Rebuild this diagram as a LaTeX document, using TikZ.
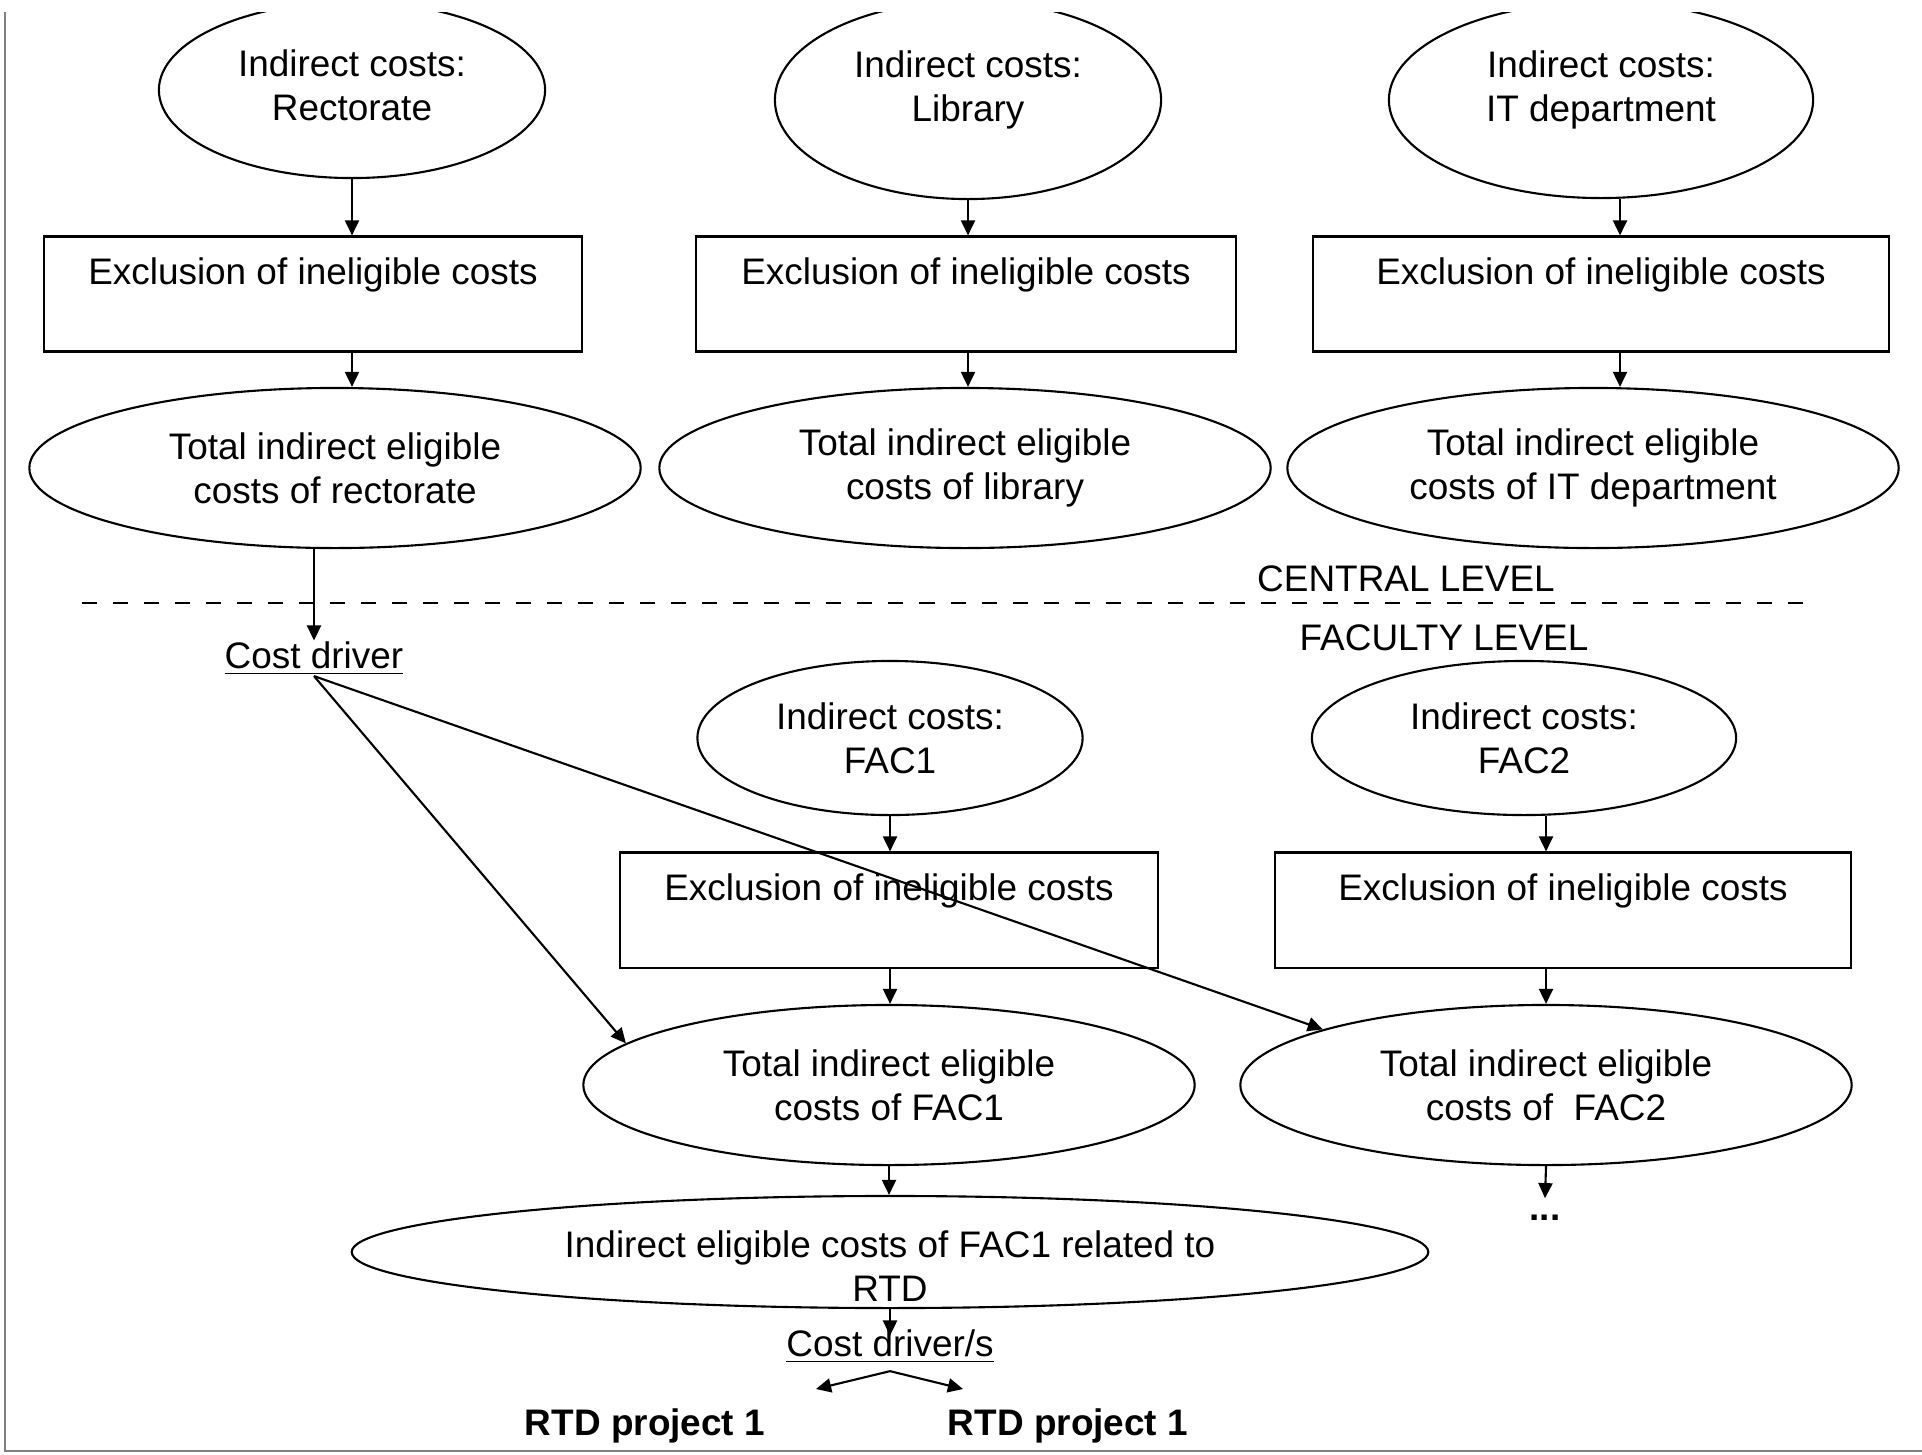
\documentclass[tikz,border=0pt]{standalone}
\usepackage{fontspec}
\setmainfont{Liberation Sans}
\usetikzlibrary{shapes.geometric,arrows.meta}

\begin{document}
\begin{tikzpicture}
[x=0.01cm,y=-0.01cm,
  lineDecorate/.style={-{Triangle[length=4.3pt,width=4pt]},line width=0.6pt},%
  ellipseDecorate/.style={shape=ellipse,draw,line width=0.6pt,inner sep=0pt,align=center},%
  boxDecorate/.style={shape=rectangle,draw,line width=0.6pt,inner sep=0pt,align=center,minimum height=1.15cm,text depth=0.46cm},%
  textDecorate/.style={inner sep=0pt,anchor=base},%
  frameDecorate/.style={draw=gray,line width=0.5pt}]
\fontsize{10.5}{12.6}\selectfont
\useasboundingbox (0,0) rectangle (1922,1454);
\clip (0,12) rectangle (1922,1454);
%% central level
\foreach \nodename/\x/\y/\w/\h/\d/\txt in {e1/352/90/3.86/1.76/0.1/{Indirect costs:\\Rectorate},
  e2/968/100/3.86/1.98/0.28/{Indirect costs:\\Library}, e3/1601/100/4.24/1.96/0.28/{Indirect costs:\\IT department}}
{
  \node (\nodename) at (\x,\y) [ellipseDecorate,minimum width=\w cm,minimum height=\h cm,text depth=\d cm] {\txt};
}
\foreach \nodename/\x/\y/\w in {b1/313/294/5.37, b2/966/294/5.39, b3/1601/294/5.76, b4/889/910/5.37, b5/1563/910/5.76}
{
  \node (\nodename) at (\x,\y) [boxDecorate,minimum width=\w cm] {Exclusion of ineligible costs};
}
\foreach \nodename/\x/\y/\txt in {t1/335/468/{Total indirect eligible\\costs of rectorate},
  t2/965/468/{Total indirect eligible\\costs of library}, t3/1593/468/{Total indirect eligible\\costs of IT department},
  t4/889/1085/{Total indirect eligible\\costs of FAC1}, t5/1546/1085/{Total indirect eligible\\costs of~ FAC2}}
{
  \node (\nodename) at (\x,\y) [ellipseDecorate,minimum width=6.11cm,minimum height=1.6cm] {\txt};
}
%% faculty level
\foreach \nodename/\x/\w/\txt in {f1/890/3.85/{Indirect costs:\\FAC1}, f2/1524/4.24/{Indirect costs:\\FAC2}}
{
  \node (\nodename) at (\x,738) [ellipseDecorate,minimum width=\w cm,minimum height=1.54cm] {\txt};
}
\node (rtd) at (890,1252) [ellipseDecorate,minimum width=10.76cm,minimum height=1.12cm,text height=0.995cm,text depth=-0.1cm,inner ysep=-0.12cm] {Indirect eligible costs of FAC1 related to\\RTD};
%% plain labels
\node (cd) at (314,668) [textDecorate] {\underline{Cost driver}};
\node (cds) at (890,1356) [textDecorate] {\underline{Cost driver/s}};
\node (central) at (1406,591) [textDecorate] {CENTRAL LEVEL};
\node (faculty) at (1444,650) [textDecorate] {FACULTY LEVEL};
\node (rtd1) at (645,1435) [textDecorate,font=\bfseries] {RTD project 1};
\node (rtd2) at (1068,1435) [textDecorate,font=\bfseries] {RTD project 1};
\node (dots) at (1545,1220) [textDecorate,text height=6pt,font=\bfseries] {...};
\coordinate (axis3) at (1620,0);
\coordinate (sepL) at (82,603);
\coordinate (sepR) at (1818,603);
\coordinate (leftTip) at (816,1389);
\coordinate (rightTip) at (963,1389);
\coordinate (frameTop) at (5,12);
\coordinate (frameCorner) at (5,1451);
\coordinate (frameEnd) at (1922,1451);
%% edges or lines
\foreach \en/\bn/\tn in {e1/b1/t1, e2/b2/t2}
{
  \draw[lineDecorate] (\en.south) -- (\en.south |- \bn.north);
  \draw[lineDecorate] (\en |- \bn.south) -- (\en |- \tn.north);
}
\draw[lineDecorate] (axis3 |- e3.south) -- (axis3 |- b3.north);
\draw[lineDecorate] (axis3 |- b3.south) -- (axis3 |- t3.north);
\draw[lineDecorate] (cd |- t1.south) -- (cd.north);
\draw[lineDecorate] (cd.south) -- (t4.171);
\draw[lineDecorate] (cd.south) -- (t5.166);
\draw[lineDecorate] (f1.south) -- (f1.south |- b4.north);
\draw[lineDecorate] (f1 |- b4.south) -- (f1 |- t4.north);
\draw[lineDecorate] (t5 |- f2.south) -- (t5 |- b5.north);
\draw[lineDecorate] (t5 |- b5.south) -- (t5.north);
\draw[lineDecorate] (t4.south) -- (t4.south |- rtd.north);
\draw[lineDecorate] (t5.south) -- (dots.north);
\draw[lineDecorate] (rtd.south) -- ([yshift=-2pt]cds.north);
\draw[lineDecorate] ([yshift=-2pt]cds.south) -- (leftTip);
\draw[lineDecorate] ([yshift=-2pt]cds.south) -- (rightTip);
\draw[line width=0.6pt,dash pattern=on 0.15cm off 0.16cm] (sepL) -- (sepR);
\draw[frameDecorate] (frameTop) -- (frameCorner) -- (frameEnd);
\end{tikzpicture}
\end{document}
